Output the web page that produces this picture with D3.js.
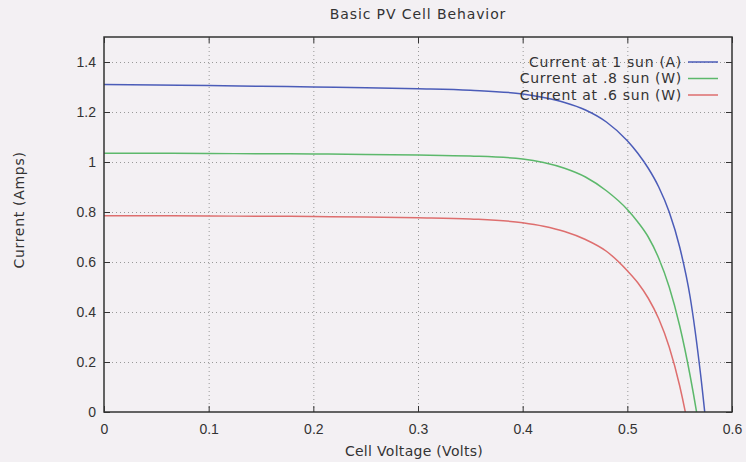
<!DOCTYPE html>
<html>
<head>
<meta charset="utf-8">
<script src="https://cdn.jsdelivr.net/npm/d3@7"></script>
<style>
  body { margin: 0; background: #f3f0f3; }
  svg { display: block; font-family: "DejaVu Sans", sans-serif; }
  .axis path { display: none; }
  .axis line { stroke: #333; }
  .axis text { fill: #333; font-size: 14px; }
  .grid line { stroke: #999; stroke-dasharray: 1,3; }
  .grid path { display: none; }
</style>
</head>
<body>
<div id="chart-area"></div>
<script>
const voltage = [0, 0.05, 0.1, 0.15, 0.2, 0.25, 0.3, 0.35, 0.4, 0.42, 0.44, 0.46, 0.48, 0.5, 0.51, 0.52, 0.53, 0.54, 0.55, 0.56, 0.57, 0.58];
const currentOneSun = [1.31, 1.308, 1.306, 1.303, 1.3, 1.297, 1.293, 1.287, 1.272, 1.258, 1.238, 1.208, 1.16, 1.085, 1.035, 0.975, 0.9, 0.8, 0.66, 0.46, 0.15, -0.25];
const currentEightSun = [1.035, 1.035, 1.034, 1.033, 1.032, 1.03, 1.028, 1.024, 1.012, 0.998, 0.975, 0.94, 0.885, 0.81, 0.76, 0.7, 0.615, 0.5, 0.345, 0.145, -0.1, -0.4];
const currentSixSun = [0.785, 0.785, 0.784, 0.783, 0.782, 0.78, 0.777, 0.772, 0.757, 0.743, 0.722, 0.69, 0.643, 0.565, 0.517, 0.455, 0.373, 0.26, 0.105, -0.1, -0.35, -0.7];
const seriesNames = ['Current at 1 sun (A)', 'Current at .8 sun (W)', 'Current at .6 sun (W)'];
const seriesColors = ['#4b5cb8', '#5cb86b', '#de6e6e'];
const xTicks = [0, 0.1, 0.2, 0.3, 0.4, 0.5, 0.6];
const yTicks = [0, 0.2, 0.4, 0.6, 0.8, 1, 1.2, 1.4];

const drawChart = () => {
  const chartSize = { width: 746, height: 462 };
  const margin = { left: 104, right: 14, top: 37, bottom: 50 };
  const width = chartSize.width - margin.left - margin.right;
  const height = chartSize.height - margin.top - margin.bottom;

  const svg = d3.select('#chart-area').append('svg')
    .attr('width', chartSize.width)
    .attr('height', chartSize.height);

  const x = d3.scaleLinear().domain([0, 0.6]).range([0, width]);
  const y = d3.scaleLinear().domain([0, 1.5]).range([height, 0]);

  const g = svg.append('g')
    .attr('transform', `translate(${margin.left},${margin.top})`);

  // dotted grid
  g.append('g')
    .attr('class', 'grid')
    .attr('transform', `translate(0,${height})`)
    .call(d3.axisBottom(x).tickValues(xTicks.slice(1, -1)).tickSize(-height).tickFormat(''));
  g.append('g')
    .attr('class', 'grid')
    .call(d3.axisLeft(y).tickValues(yTicks.slice(1)).tickSize(-width).tickFormat(''));

  // axes, ticks inside like gnuplot, mirrored on top and right
  g.append('g')
    .attr('class', 'x axis')
    .attr('transform', `translate(0,${height})`)
    .call(d3.axisBottom(x).tickValues(xTicks).tickSizeInner(-6).tickPadding(12).tickFormat(d3.format('')));
  g.append('g')
    .attr('class', 'y axis')
    .call(d3.axisLeft(y).tickValues(yTicks).tickSizeInner(-6).tickPadding(8).tickFormat(d3.format('')));
  g.append('g')
    .attr('class', 'axis')
    .call(d3.axisTop(x).tickValues(xTicks).tickSizeInner(-6).tickFormat(''));
  g.append('g')
    .attr('class', 'axis')
    .attr('transform', `translate(${width},0)`)
    .call(d3.axisRight(y).tickValues(yTicks).tickSizeInner(-6).tickFormat(''));

  g.append('defs').append('clipPath')
    .attr('id', 'plot-clip')
    .append('rect')
    .attr('width', width)
    .attr('height', height);

  const series = [currentOneSun, currentEightSun, currentSixSun].map((vals, i) => ({
    name: seriesNames[i],
    color: seriesColors[i],
    points: voltage.map((v, j) => ({ v, c: vals[j] }))
  }));

  const line = d3.line()
    .x(p => x(p.v))
    .y(p => y(p.c))
    .curve(d3.curveMonotoneX);

  g.append('g')
    .attr('clip-path', 'url(#plot-clip)')
    .selectAll('path')
    .data(series)
    .enter()
    .append('path')
    .attr('d', s => line(s.points))
    .attr('fill', 'none')
    .attr('stroke', s => s.color)
    .attr('stroke-width', 1.5);

  // legend
  const legend = g.selectAll('.legend')
    .data(series)
    .enter()
    .append('g')
    .attr('class', 'legend')
    .attr('transform', (s, i) => `translate(${width - 50},${25 + i * 16.5})`);
  legend.append('text')
    .attr('text-anchor', 'end')
    .attr('dy', '0.35em')
    .attr('font-size', 14)
    .attr('letter-spacing', 0.7)
    .attr('fill', '#333')
    .text(s => s.name);
  legend.append('line')
    .attr('x1', 6)
    .attr('x2', 36)
    .attr('stroke', s => s.color)
    .attr('stroke-width', 1.5);

  // border
  g.append('rect')
    .attr('width', width)
    .attr('height', height)
    .attr('fill', 'none')
    .attr('stroke', '#333')
    .attr('stroke-width', 1.5);

  svg.append('text')
    .attr('x', margin.left + width / 2)
    .attr('y', 19)
    .attr('text-anchor', 'middle')
    .attr('font-size', 14)
    .attr('letter-spacing', 0.9)
    .attr('fill', '#333')
    .text('Basic PV Cell Behavior');

  svg.append('text')
    .attr('x', margin.left + width / 2 - 4)
    .attr('y', 456)
    .attr('text-anchor', 'middle')
    .attr('font-size', 14)
    .attr('letter-spacing', 0.3)
    .attr('fill', '#333')
    .text('Cell Voltage (Volts)');

  svg.append('text')
    .attr('transform', 'translate(24,210) rotate(-90)')
    .attr('text-anchor', 'middle')
    .attr('font-size', 14)
    .attr('letter-spacing', 0.7)
    .attr('fill', '#333')
    .text('Current (Amps)');
}

window.onload = drawChart;
</script>
</body>
</html>
